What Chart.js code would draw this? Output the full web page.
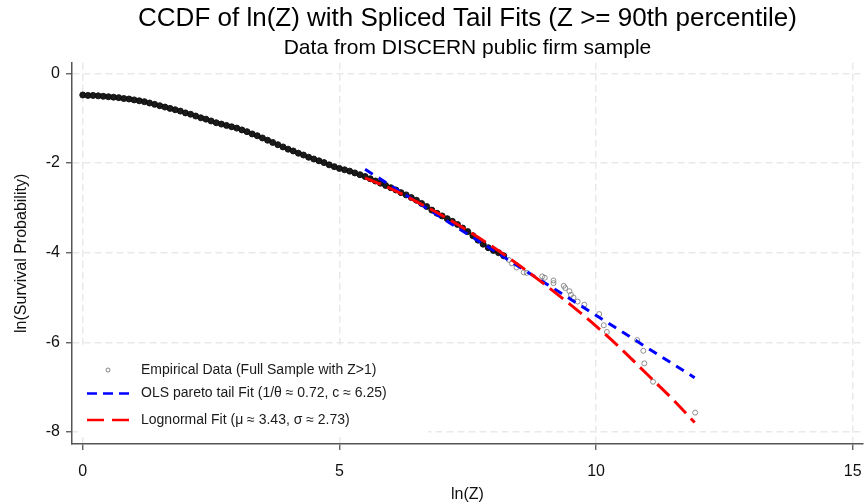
<!DOCTYPE html>
<html>
<head>
<meta charset="utf-8">
<script src="https://cdn.jsdelivr.net/npm/chart.js@4"></script>
<style>
  body { margin: 0; background: #fff; }
  #wrap { width: 868px; height: 504px; position: relative; }
</style>
</head>
<body>
<div id="wrap"><canvas id="ccdfChart"></canvas></div>
<script>
const empX = [
  0.0, 0.1, 0.2, 0.3, 0.4, 0.5, 0.6, 0.7, 0.8, 0.9,
  1.0, 1.1, 1.2, 1.3, 1.4, 1.5, 1.6, 1.7, 1.8, 1.9,
  2.0, 2.1, 2.2, 2.3, 2.4, 2.5, 2.6, 2.7, 2.8, 2.9,
  3.0, 3.1, 3.2, 3.3, 3.4, 3.5, 3.6, 3.7, 3.8, 3.9,
  4.0, 4.1, 4.2, 4.3, 4.4, 4.5, 4.6, 4.7, 4.8, 4.9,
  5.0, 5.1, 5.2, 5.3, 5.4, 5.5, 5.6, 5.7, 5.8, 5.9,
  6.0, 6.1, 6.2, 6.3, 6.4, 6.5, 6.6, 6.7, 6.8, 6.9,
  7.0, 7.1, 7.2, 7.3, 7.4, 7.5, 7.6, 7.7, 7.8, 7.9,
  8.0, 8.1, 8.2,
  8.30, 8.36, 8.45, 8.59, 8.65, 8.95, 9.00, 9.17, 9.17, 9.37,
  9.40, 9.48, 9.51, 9.56, 9.64, 9.77, 10.06, 10.15, 10.21, 10.80,
  10.92, 10.94, 11.11, 11.93
];
const empY = [
  -0.48, -0.49, -0.49, -0.50, -0.51, -0.52, -0.53, -0.54, -0.56, -0.57,
  -0.59, -0.61, -0.63, -0.66, -0.69, -0.72, -0.75, -0.78, -0.81, -0.84,
  -0.88, -0.91, -0.95, -0.99, -1.02, -1.06, -1.10, -1.13, -1.16, -1.19,
  -1.22, -1.26, -1.30, -1.35, -1.39, -1.44, -1.49, -1.54, -1.59, -1.64,
  -1.69, -1.73, -1.78, -1.82, -1.87, -1.91, -1.95, -1.99, -2.04, -2.08,
  -2.12, -2.15, -2.18, -2.22, -2.26, -2.30, -2.35, -2.40, -2.45, -2.50,
  -2.55, -2.60, -2.66, -2.71, -2.77, -2.83, -2.90, -2.97, -3.05, -3.12,
  -3.18, -3.24, -3.30, -3.37, -3.45, -3.53, -3.62, -3.72, -3.81, -3.89,
  -3.95, -4.00, -4.07,
  -4.16, -4.24, -4.33, -4.44, -4.45, -4.53, -4.56, -4.62, -4.68, -4.74,
  -4.79, -4.86, -4.94, -5.00, -5.09, -5.16, -5.37, -5.62, -5.77, -5.95,
  -6.19, -6.47, -6.88, -7.57
];

// OLS pareto tail fit (straight line)
const paretoX = [5.5, 11.92];
const paretoY = [-2.14, -6.79];

// Lognormal fit
const lognormX = [5.5, 6.0, 6.5, 7.0, 7.5, 8.0, 8.5, 9.0, 9.5, 10.0, 10.5, 11.0, 11.5, 11.92];
const lognormY = [-2.33, -2.57, -2.86, -3.17, -3.51, -3.88, -4.28, -4.71, -5.16, -5.64, -6.16, -6.72, -7.28, -7.79];

const xTicks = [0, 5, 10, 15];
const yTicks = [-8, -6, -4, -2, 0];

const labels = [
    'Empirical Data (Full Sample with Z>1)',
    'OLS pareto tail Fit (1/\u03b8 \u2248 0.72, c \u2248 6.25)',
    'Lognormal Fit (\u03bc \u2248 3.43, \u03c3 \u2248 2.73)'
];

const toPoints = (xs, ys) => xs.map((x, i) => ({ x: x, y: ys[i] }));
const FONT = '"Liberation Sans", Arial, sans-serif';

// legend drawn inside the plot, lower left, on a white box
const insideLegend = {
    id: 'insideLegend',
    beforeDatasetsDraw(chart) {
        const ctx = chart.ctx;
        const rows = [370, 393.5, 420];
        ctx.save();
        ctx.fillStyle = '#ffffff';
        ctx.fillRect(78, 347, 350, 90);
        chart.data.datasets.forEach((ds, i) => {
            const y = rows[i];
            if (ds.showLine) {
                ctx.strokeStyle = ds.borderColor;
                ctx.lineWidth = 2.5;
                ctx.setLineDash(ds.legendDash);
                ctx.beginPath();
                ctx.moveTo(87, y);
                ctx.lineTo(130, y);
                ctx.stroke();
            } else {
                ctx.setLineDash([]);
                ctx.strokeStyle = 'rgba(120,120,120,0.9)';
                ctx.lineWidth = 1;
                ctx.beginPath();
                ctx.arc(108, y, 2, 0, Math.PI * 2);
                ctx.stroke();
            }
            ctx.setLineDash([]);
            ctx.fillStyle = '#1a1a1a';
            ctx.font = '14px ' + FONT;
            ctx.textBaseline = 'middle';
            ctx.textAlign = 'left';
            ctx.fillText(ds.label, 141, y);
        });
        ctx.restore();
    }
};

const dense = c => c.raw && c.raw.x <= 8.25;

const ctx = document.getElementById('ccdfChart').getContext('2d');
new Chart(ctx, {
    type: 'scatter',
    data: {
        datasets: [
            {
                label: labels[0],
                data: toPoints(empX, empY),
                showLine: false,
                pointStyle: 'circle',
                pointRadius: c => dense(c) ? 3 : 2.5,
                pointBorderWidth: 1,
                pointBorderColor: c => dense(c) ? 'rgba(15,15,15,0.95)' : 'rgba(125,125,125,0.85)',
                pointBackgroundColor: c => dense(c) ? 'rgba(15,15,15,0.95)' : 'rgba(255,255,255,0)',
                order: 3
            },
            {
                label: labels[1],
                data: toPoints(paretoX, paretoY),
                showLine: true,
                borderColor: '#0000ff',
                borderWidth: 3,
                borderDash: [9, 7],
                legendDash: [10, 6],
                pointRadius: 0,
                fill: false,
                order: 2
            },
            {
                label: labels[2],
                data: toPoints(lognormX, lognormY),
                showLine: true,
                borderColor: '#ff0000',
                borderWidth: 3,
                borderDash: [17, 7],
                legendDash: [17, 8],
                cubicInterpolationMode: 'monotone',
                pointRadius: 0,
                fill: false,
                order: 1
            }
        ]
    },
    options: {
        responsive: true,
        maintainAspectRatio: false,
        animation: false,
        layout: { padding: { right: 2, left: 0, top: 0, bottom: 0 } },
        plugins: {
            legend: { display: false },
            tooltip: { enabled: false },
            title: {
                display: true,
                fullSize: false,
                text: 'CCDF of ln(Z) with Spliced Tail Fits (Z >= 90th percentile)',
                color: '#000',
                font: { family: FONT, size: 26, weight: 'normal' },
                padding: { top: 3.5, bottom: 0 }
            },
            subtitle: {
                display: true,
                fullSize: false,
                text: 'Data from DISCERN public firm sample',
                color: '#000',
                font: { family: FONT, size: 21, weight: 'normal' },
                padding: { top: 1, bottom: 1.8 }
            }
        },
        scales: {
            x: {
                type: 'linear',
                min: -0.21,
                max: 15.2,
                afterFit: s => { s.height = 60; s.paddingLeft = 0; s.paddingRight = 0; },
                afterBuildTicks: s => { s.ticks = xTicks.map(v => ({ value: v })); },
                grid: { color: '#e9e9e9', lineWidth: 1.5, tickColor: '#555', tickLength: 6, tickWidth: 1.3 },
                border: { display: true, color: '#555', width: 1.5, dash: [7, 4] },
                ticks: { color: '#111', font: { family: FONT, size: 16 }, padding: 12 },
                title: { display: true, text: 'ln(Z)', color: '#111', font: { family: FONT, size: 16 }, padding: { top: 0, bottom: 0 } }
            },
            y: {
                type: 'linear',
                min: -8.27,
                max: 0.24,
                afterFit: s => { s.width = 72; s.paddingTop = 0; s.paddingBottom = 0; },
                afterBuildTicks: s => { s.ticks = yTicks.map(v => ({ value: v })); },
                grid: { color: '#e9e9e9', lineWidth: 1.5, tickColor: '#555', tickLength: 6, tickWidth: 1.3 },
                border: { display: true, color: '#555', width: 1.5, dash: [7, 4] },
                ticks: { color: '#111', font: { family: FONT, size: 16 }, padding: 6 },
                title: { display: true, text: 'ln(Survival Probability)', color: '#111', font: { family: FONT, size: 16 }, padding: { top: 12, bottom: 0 } }
            }
        }
    },
    plugins: [insideLegend]
});
</script>
</body>
</html>
